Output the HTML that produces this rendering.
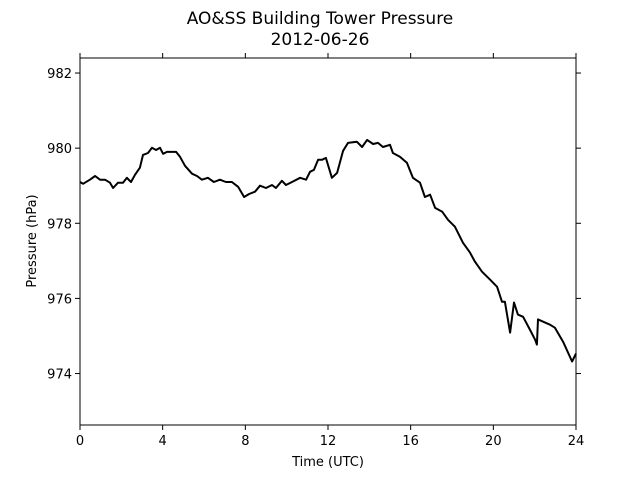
<!DOCTYPE html>
<html><head><meta charset="utf-8"><style>
body{margin:0;background:#fff}
svg{display:block;font-family:"DejaVu Sans","Liberation Sans",sans-serif}
</style></head><body>
<svg id="chart" width="640" height="480">
<text x="320" y="24" text-anchor="middle" font-size="17">AO&amp;SS Building Tower Pressure</text>
<text x="320" y="45" text-anchor="middle" font-size="17">2012-06-26</text>
<g id="axes"></g>
<rect x="80" y="58" width="496" height="367" fill="none" stroke="#000" stroke-width="1"/>
<text x="328" y="466" text-anchor="middle" font-size="13">Time (UTC)</text>
<text transform="translate(36,241) rotate(-90)" text-anchor="middle" font-size="13">Pressure (hPa)</text>
</svg>
<script>
const hours=[0,0.15,0.48,0.73,0.97,1.21,1.45,1.6,1.84,2.08,2.27,2.47,2.66,2.9,3.05,3.29,3.48,3.68,3.87,4.02,4.21,4.45,4.65,4.84,5.08,5.42,5.66,5.9,6.19,6.48,6.77,7.06,7.35,7.65,7.94,8.18,8.47,8.71,9,9.29,9.48,9.77,9.97,10.26,10.65,10.94,11.13,11.32,11.52,11.71,11.9,12.19,12.44,12.73,12.97,13.4,13.65,13.89,14.18,14.42,14.66,15,15.14,15.48,15.82,16.11,16.45,16.69,16.94,17.18,17.52,17.81,18.14,18.53,18.87,19.11,19.45,19.84,20.18,20.42,20.56,20.81,21,21.19,21.44,21.77,22.02,22.11,22.16,22.74,22.98,23.37,23.81,24];
const pressure=[979.10,979.05,979.16,979.26,979.16,979.16,979.08,978.94,979.08,979.08,979.21,979.10,979.29,979.48,979.82,979.87,980.01,979.95,980.01,979.85,979.90,979.90,979.90,979.77,979.53,979.32,979.26,979.16,979.21,979.10,979.16,979.10,979.10,978.97,978.70,978.78,978.84,979.00,978.94,979.02,978.94,979.13,979.02,979.10,979.21,979.16,979.37,979.42,979.69,979.69,979.74,979.21,979.34,979.93,980.14,980.17,980.03,980.22,980.11,980.14,980.03,980.09,979.87,979.77,979.61,979.21,979.08,978.70,978.76,978.41,978.31,978.09,977.91,977.48,977.22,976.98,976.71,976.50,976.31,975.91,975.91,975.09,975.89,975.57,975.51,975.17,974.90,974.77,975.44,975.30,975.22,974.85,974.32,974.53];
const xTicks=[0,4,8,12,16,20,24];
const yTicks=[974,976,978,980,982];
const X0=80,X1=576,Y0=425,Y1=58,XMIN=0,XMAX=24,YMIN=972.63,YMAX=982.4;
const xs=v=>X0+(v-XMIN)/(XMAX-XMIN)*(X1-X0);
const ys=v=>Y0-(v-YMIN)/(YMAX-YMIN)*(Y0-Y1);
const NS="http://www.w3.org/2000/svg";
const g=document.getElementById('axes');
function mk(t,a){const e=document.createElementNS(NS,t);for(const k in a)e.setAttribute(k,a[k]);g.appendChild(e);return e;}
xTicks.forEach(t=>{
  const x=xs(t);
  const a=mk('line',{x1:x,x2:x,y1:Y0,y2:Y0+5,stroke:'#000'});
  
  
  const b=mk('line',{x1:x,x2:x,y1:Y1,y2:Y1-5,stroke:'#000'});
  
  
  const l=mk('text',{x:x,y:Y0+20,'text-anchor':'middle','font-size':13});
  l.textContent=t;
  
  
});
yTicks.forEach(t=>{
  const y=ys(t);
  const a=mk('line',{x1:X0-5,x2:X0,y1:y,y2:y,stroke:'#000'});
  
  
  const b=mk('line',{x1:X1,x2:X1+5,y1:y,y2:y,stroke:'#000'});
  
  
  const l=mk('text',{x:X0-8,y:y+5,'text-anchor':'end','font-size':13});
  l.textContent=t;
  
  
});
const d=hours.map((h,i)=>(i?'L':'M')+xs(h).toFixed(1)+' '+ys(pressure[i]).toFixed(1)).join(' ');
const p=mk('path',{d:d,fill:'none',stroke:'#000','stroke-width':2,'stroke-linejoin':'round'});


</script>
</body></html>
